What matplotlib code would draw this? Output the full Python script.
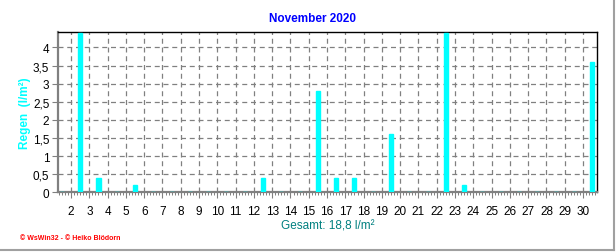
#!/usr/bin/env python3
"""Daily rain for November 2020, WsWin32 style bar chart."""

import matplotlib
matplotlib.use("Agg")
import matplotlib.pyplot as plt
from matplotlib.lines import Line2D
from matplotlib.ticker import FixedLocator, MultipleLocator, FuncFormatter
import numpy as np

days = list(range(1, 31))
rain = [0.0, 4.4, 0.4, 0.0, 0.2, 0.0, 0.0, 0.0, 0.0, 0.0,
        0.0, 0.4, 0.0, 0.0, 2.8, 0.4, 0.4, 0.0, 1.6, 0.0,
        0.0, 4.4, 0.2, 0.0, 0.0, 0.0, 0.0, 0.0, 0.0, 3.6]
xtick_days = list(range(2, 31))
yticks = [0, 0.5, 1, 1.5, 2, 2.5, 3, 3.5, 4]

title = "November 2020"
ylabel = "Regen  (l/m²)"
total_label = "Gesamt: 18,8 l/m²"
footer = "© WsWin32 - © Heiko Blödorn"

plt.rcParams["font.family"] = ["Liberation Sans", "DejaVu Sans"]

fig = plt.figure(figsize=(6.16, 2.53), dpi=100)
ax = fig.add_axes([0.0937, 0.236, 0.8759, 0.6324])

pos = np.array(days) + 0.5
ax.bar(pos, rain, width=0.22, color="#00ffff", edgecolor="#00ffff",
       linewidth=1.0, zorder=3)

ax.set_xlim(1.27, 30.78)
ax.set_ylim(0, 4.42)

ax.xaxis.set_major_locator(FixedLocator(xtick_days))
ax.xaxis.set_minor_locator(MultipleLocator(1 / 6))
ax.yaxis.set_major_locator(FixedLocator(yticks))
ax.yaxis.set_major_formatter(
    FuncFormatter(lambda v, _: f"{v:g}".replace(".", ",")))

ax.grid(True, which="major", color="#808080", linestyle=(0, (4, 3)),
        linewidth=0.9, zorder=1)
ax.tick_params(axis="both", which="major", labelsize=8.5, length=4,
               width=0.8, color="#808080", direction="out")
ax.tick_params(axis="x", which="major", pad=5)
ax.tick_params(axis="y", which="major", pad=2)
ax.tick_params(axis="x", which="minor", length=2.5, width=0.7,
               color="#808080", direction="out")

for side in ("left", "bottom"):
    ax.spines[side].set_color("#808080")
    ax.spines[side].set_linewidth(1.6)
for side in ("top", "right"):
    ax.spines[side].set_color("black")
    ax.spines[side].set_linewidth(1.0)

ax.set_ylabel(ylabel, color="#00ffff", fontweight="bold", fontsize=8.5,
              labelpad=1)
ax.set_xlabel(total_label, color="#008080", fontsize=8.5, labelpad=2)

fig.text(0.507, 0.925, title, color="#0000ff", fontweight="bold",
         fontsize=8.5, ha="center", va="center")
fig.text(0.032, 0.058, footer, color="#ff0000", fontweight="bold",
         fontsize=5, ha="left", va="center")

# window frame, right and bottom
fig.add_artist(Line2D([0.9975, 0.9975], [0.008, 1.0], transform=fig.transFigure,
                      color="#a0a0a0", linewidth=1.5))
fig.add_artist(Line2D([0.0, 0.9975], [0.008, 0.008], transform=fig.transFigure,
                      color="#a0a0a0", linewidth=1.5))

fig.savefig("out.png", dpi=100)
